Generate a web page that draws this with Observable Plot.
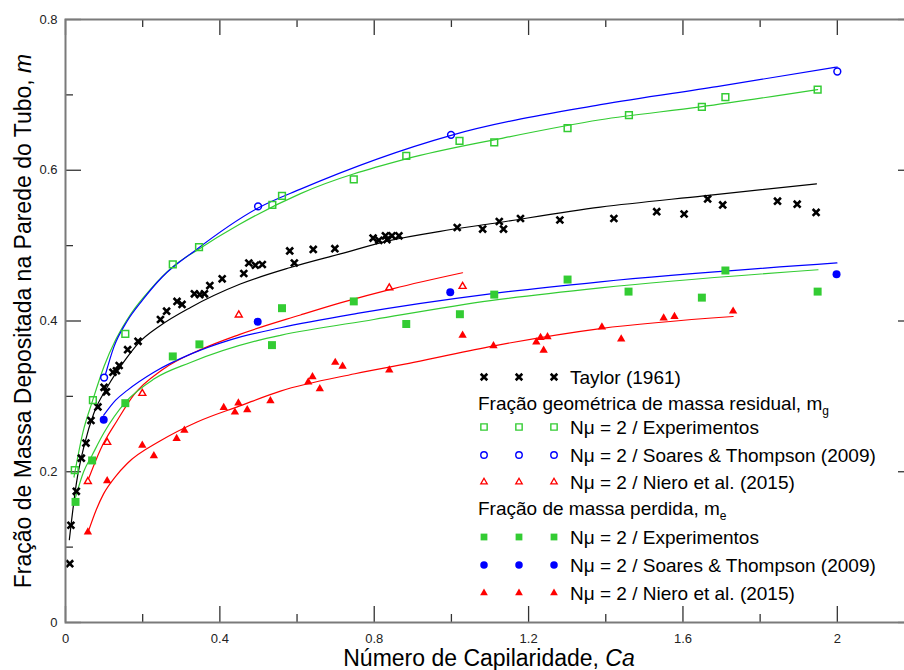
<!DOCTYPE html>
<html><head><meta charset="utf-8">
<script src="https://cdn.jsdelivr.net/npm/d3@7"></script>
<script src="https://cdn.jsdelivr.net/npm/@observablehq/plot@0.6"></script>
<style>
html,body{margin:0;padding:0;overflow:hidden;background:#fff;}
#wrap{position:relative;width:904px;height:670px;overflow:hidden;font-family:"Liberation Sans",Arial,sans-serif;color:#000;}
#chart{position:absolute;left:0;top:0;width:914px;}
#chart svg{max-width:none !important;}
.ytitle{position:absolute;left:23px;top:321px;transform:translate(-50%,-50%) rotate(-90deg);white-space:nowrap;font-size:23px;line-height:1;}
.xtitle{position:absolute;left:489px;top:658px;transform:translate(-50%,-50%);white-space:nowrap;font-size:23px;line-height:18px;}
.lg{position:absolute;white-space:nowrap;font-size:19px;line-height:1;transform:translateY(-50%);}
.lg sub{font-size:12px;vertical-align:-5px;line-height:0;}
.sym{position:absolute;width:14px;height:14px;overflow:visible;}
</style></head><body>
<div id="wrap"><div id="chart"></div>
<div class="ytitle">Fração de Massa Depositada na Parede do Tubo, <i>m</i></div>
<div class="xtitle">Número de Capilaridade, <i>Ca</i></div>
</div>
<script>
// ---------- data (Ca, m) ----------
const taylor = [[0.011,0.078],[0.014,0.129],[0.028,0.174],[0.041,0.218],[0.053,0.238],[0.066,0.268],[0.084,0.286],[0.100,0.312],[0.106,0.306],[0.123,0.332],[0.132,0.334],[0.139,0.341],[0.161,0.362],[0.188,0.373],[0.246,0.402],[0.262,0.413],[0.289,0.426],[0.302,0.422],[0.334,0.436],[0.348,0.435],[0.360,0.436],[0.374,0.447],[0.406,0.456],[0.462,0.463],[0.475,0.477],[0.492,0.474],[0.510,0.475],[0.581,0.493],[0.593,0.477],[0.642,0.495],[0.698,0.496],[0.797,0.510],[0.812,0.507],[0.829,0.513],[0.833,0.508],[0.846,0.513],[0.864,0.513],[1.015,0.524],[1.081,0.522],[1.124,0.532],[1.135,0.522],[1.179,0.536],[1.281,0.534],[1.421,0.536],[1.532,0.545],[1.603,0.542],[1.664,0.562],[1.703,0.554],[1.845,0.559],[1.896,0.555],[1.945,0.544]];
const taylorFit = [[0.010,0.110],[0.028,0.184],[0.050,0.238],[0.073,0.277],[0.108,0.312],[0.160,0.352],[0.188,0.370],[0.246,0.394],[0.324,0.418],[0.453,0.449],[0.583,0.471],[0.712,0.489],[0.842,0.507],[0.971,0.519],[1.101,0.529],[1.386,0.551],[1.654,0.566],[1.946,0.582]];

const geoExp = [[0.024,0.202],[0.071,0.295],[0.155,0.383],[0.278,0.475],[0.346,0.498],[0.536,0.554],[0.561,0.566],[0.747,0.588],[0.883,0.619],[1.021,0.639],[1.111,0.637],[1.301,0.656],[1.460,0.673],[1.649,0.684],[1.710,0.697],[1.949,0.707]];
const geoExpFit = [[0.022,0.193],[0.045,0.252],[0.070,0.294],[0.100,0.340],[0.130,0.375],[0.170,0.410],[0.220,0.442],[0.278,0.472],[0.341,0.494],[0.450,0.528],[0.609,0.569],[0.883,0.615],[1.127,0.642],[1.386,0.667],[1.645,0.684],[1.949,0.707]];

const geoST = [[0.100,0.325],[0.499,0.552],[0.999,0.647],[2.000,0.731]];
const geoSTFit = [[0.104,0.330],[0.125,0.365],[0.160,0.400],[0.200,0.428],[0.250,0.458],[0.337,0.494],[0.499,0.550],[0.609,0.575],[0.997,0.646],[1.386,0.687],[1.688,0.711],[2.000,0.737]];

const geoNiero = [[0.058,0.187],[0.108,0.239],[0.199,0.304],[0.449,0.408],[0.839,0.444],[1.029,0.446]];
const geoNieroFit = [[0.060,0.191],[0.091,0.230],[0.134,0.268],[0.177,0.302],[0.250,0.335],[0.350,0.362],[0.450,0.382],[0.609,0.408],[0.712,0.424],[0.850,0.443],[1.029,0.464]];

const lostExp = [[0.026,0.160],[0.069,0.215],[0.155,0.291],[0.278,0.353],[0.347,0.369],[0.535,0.368],[0.561,0.417],[0.747,0.426],[0.883,0.396],[1.022,0.409],[1.111,0.435],[1.301,0.455],[1.459,0.439],[1.649,0.431],[1.710,0.467],[1.949,0.439]];
const lostExpFit = [[0.026,0.166],[0.047,0.200],[0.069,0.222],[0.100,0.252],[0.155,0.292],[0.229,0.323],[0.324,0.345],[0.497,0.374],[0.557,0.381],[0.799,0.402],[1.101,0.427],[1.386,0.444],[1.950,0.468]];

const lostST = [[0.099,0.269],[0.498,0.399],[0.997,0.438],[1.998,0.462]];
const lostSTFit = [[0.099,0.275],[0.130,0.295],[0.160,0.308],[0.229,0.332],[0.324,0.356],[0.427,0.375],[0.557,0.391],[0.756,0.410],[1.101,0.436],[1.386,0.452],[1.999,0.477]];

const lostNiero = [[0.058,0.120],[0.108,0.188],[0.199,0.235],[0.229,0.221],[0.288,0.244],[0.308,0.255],[0.410,0.285],[0.439,0.279],[0.448,0.291],[0.471,0.282],[0.531,0.294],[0.629,0.319],[0.640,0.326],[0.659,0.310],[0.699,0.345],[0.718,0.340],[0.839,0.335],[1.029,0.381],[1.109,0.367],[1.220,0.372],[1.231,0.378],[1.239,0.361],[1.249,0.379],[1.390,0.392],[1.440,0.376],[1.550,0.404],[1.578,0.406],[1.730,0.413]];
const lostNieroFit = [[0.060,0.122],[0.080,0.150],[0.099,0.171],[0.130,0.194],[0.160,0.211],[0.246,0.241],[0.341,0.266],[0.450,0.287],[0.557,0.307],[0.750,0.330],[0.902,0.345],[1.110,0.367],[1.386,0.390],[1.730,0.406]];

const xMajor = [0, 0.4, 0.8, 1.2, 1.6, 2.0];
const xMinor = [0.2, 0.6, 1.0, 1.4, 1.8, 2.2];
const xLabels = ["0", "0.4", "0.8", "1.2", "1.6", "2"];
const yMajor = [0, 0.2, 0.4, 0.6, 0.8];
const yMinor = [0.1, 0.3, 0.5, 0.7];
const yLabels = ["0", "0.2", "0.4", "0.6", "0.8"];

const legendRows = [
  {sym: "times", color: "#000", label: "Taylor (1961)"},
  {head: "Fração geométrica de massa residual, m", sub: "g"},
  {sym: "squareOpen", color: "green", label: "Nμ = 2 / Experimentos"},
  {sym: "circleOpen", color: "blue", label: "Nμ = 2 / Soares & Thompson (2009)"},
  {sym: "triangleOpen", color: "red", label: "Nμ = 2 / Niero et al. (2015)"},
  {head: "Fração de massa perdida, m", sub: "e"},
  {sym: "square", color: "green", label: "Nμ = 2 / Experimentos"},
  {sym: "circle", color: "blue", label: "Nμ = 2 / Soares & Thompson (2009)"},
  {sym: "triangle", color: "red", label: "Nμ = 2 / Niero et al. (2015)"}
];

// ---------- style ----------
const COL = {green: "#33cc33", blue: "#0000ff", red: "#ff0000"};
const X = d => d[0], Y = d => d[1];
const TICK = "#333", AXIS = "#7a7a7a";
const majY = 0.0212, minY = 0.0106;   // tick lengths in y units (16px / 8px)
const majX = 0.0415, minX = 0.0207;   // tick lengths in x units

const lineOpts = (c) => ({x: X, y: Y, stroke: c, strokeWidth: 1.2, curve: "monotone-x"});

const chart = Plot.plot({
  width: 914, height: 670,
  marginLeft: 65, marginRight: 0, marginTop: 19, marginBottom: 48,
  x: {domain: [0, 2.2], axis: null},
  y: {domain: [0, 0.8], axis: null},
  style: {fontFamily: "'Liberation Sans', Arial, sans-serif", background: "#fff", overflow: "visible", maxWidth: "none"},
  marks: [
    // ticks (inward)
    Plot.ruleX(xMajor, {x: d => d, y1: 0, y2: majY, stroke: TICK, strokeWidth: 1.3}),
    Plot.ruleX(xMinor, {x: d => d, y1: 0, y2: minY, stroke: TICK, strokeWidth: 1.3}),
    Plot.ruleX(xMajor, {x: d => d, y1: 0.8, y2: 0.8 - majY, stroke: TICK, strokeWidth: 1.3}),
    Plot.ruleX(xMinor, {x: d => d, y1: 0.8, y2: 0.8 - minY, stroke: TICK, strokeWidth: 1.3}),
    Plot.ruleY(yMajor, {y: d => d, x1: 0, x2: majX, stroke: TICK, strokeWidth: 1.3}),
    Plot.ruleY(yMinor, {y: d => d, x1: 0, x2: minX, stroke: TICK, strokeWidth: 1.3}),
    Plot.ruleY(yMajor, {y: d => d, x1: 2.2, x2: 2.2 - majX, stroke: TICK, strokeWidth: 1.3}),
    Plot.ruleY(yMinor, {y: d => d, x1: 2.2, x2: 2.2 - minX, stroke: TICK, strokeWidth: 1.3}),
    // tick labels
    Plot.text(xMajor, {x: d => d, y: 0, text: (d, i) => xLabels[i], dy: 16, fontSize: 13, fill: "#222"}),
    Plot.text(yMajor, {y: d => d, x: 0, text: (d, i) => yLabels[i], dx: -8, textAnchor: "end", fontSize: 13, fill: "#222"}),
    // fitted curves
    Plot.line(taylorFit, lineOpts("#000")),
    Plot.line(geoExpFit, lineOpts(COL.green)),
    Plot.line(geoSTFit, lineOpts(COL.blue)),
    Plot.line(geoNieroFit, lineOpts(COL.red)),
    Plot.line(lostExpFit, lineOpts(COL.green)),
    Plot.line(lostSTFit, lineOpts(COL.blue)),
    Plot.line(lostNieroFit, lineOpts(COL.red)),
    // data points
    Plot.dot(taylor, {x: X, y: Y, symbol: "times", r: 3.2, stroke: "#000", strokeWidth: 2.6}),
    Plot.dot(geoExp, {x: X, y: Y, symbol: "square", r: 3.8, stroke: COL.green, fill: "none", strokeWidth: 1.5}),
    Plot.dot(geoST, {x: X, y: Y, symbol: "circle", r: 3.4, stroke: COL.blue, fill: "none", strokeWidth: 1.5}),
    Plot.dot(geoNiero, {x: X, y: Y, symbol: "triangle", r: 2.6, stroke: COL.red, fill: "none", strokeWidth: 1.4}),
    Plot.dot(lostExp, {x: X, y: Y, symbol: "square", r: 4.5, fill: COL.green, stroke: "none"}),
    Plot.dot(lostST, {x: X, y: Y, symbol: "circle", r: 4, fill: COL.blue, stroke: "none"}),
    Plot.dot(lostNiero, {x: X, y: Y, symbol: "triangle", r: 3.1, fill: COL.red, stroke: "none"}),
    // frame
    Plot.frame({stroke: AXIS, strokeWidth: 2})
  ]
});
document.getElementById("chart").appendChild(chart);

// ---------- legend (HTML overlay inside plot area) ----------
const wrap = document.getElementById("wrap");
const rowY = [377, 403, 427, 454.5, 482, 508, 537, 565, 593];
const symX = [484, 519, 554];
const symDef = {
  times: {type: d3.symbolTimes, size: 30, fill: false, sw: 2.6},
  squareOpen: {type: d3.symbolSquare, size: 40, fill: false, sw: 1.4},
  circleOpen: {type: d3.symbolCircle, size: 33, fill: false, sw: 1.4},
  triangleOpen: {type: d3.symbolTriangle, size: 18, fill: false, sw: 1.3},
  square: {type: d3.symbolSquare, size: 46, fill: true},
  circle: {type: d3.symbolCircle, size: 44, fill: true},
  triangle: {type: d3.symbolTriangle, size: 26, fill: true}
};
legendRows.forEach((row, i) => {
  const cy = rowY[i];
  if (row.head) {
    const d = document.createElement("div");
    d.className = "lg";
    d.style.left = "478px"; d.style.top = cy + "px";
    d.innerHTML = row.head + "<sub>" + row.sub + "</sub>";
    wrap.appendChild(d);
    return;
  }
  const c = COL[row.color] || row.color;
  const def = symDef[row.sym];
  const path = d3.symbol(def.type, def.size)();
  symX.forEach(sx => {
    const s = document.createElementNS("http://www.w3.org/2000/svg", "svg");
    s.setAttribute("class", "sym");
    s.setAttribute("viewBox", "-7 -7 14 14");
    s.style.left = (sx - 7) + "px"; s.style.top = (cy - 7) + "px";
    const p = document.createElementNS("http://www.w3.org/2000/svg", "path");
    p.setAttribute("d", path);
    if (def.fill) { p.setAttribute("fill", c); }
    else { p.setAttribute("fill", "none"); p.setAttribute("stroke", c); p.setAttribute("stroke-width", def.sw); }
    s.appendChild(p);
    wrap.appendChild(s);
  });
  const t = document.createElement("div");
  t.className = "lg";
  t.style.left = "570px"; t.style.top = cy + "px";
  t.textContent = row.label;
  wrap.appendChild(t);
});
</script>
</body></html>
